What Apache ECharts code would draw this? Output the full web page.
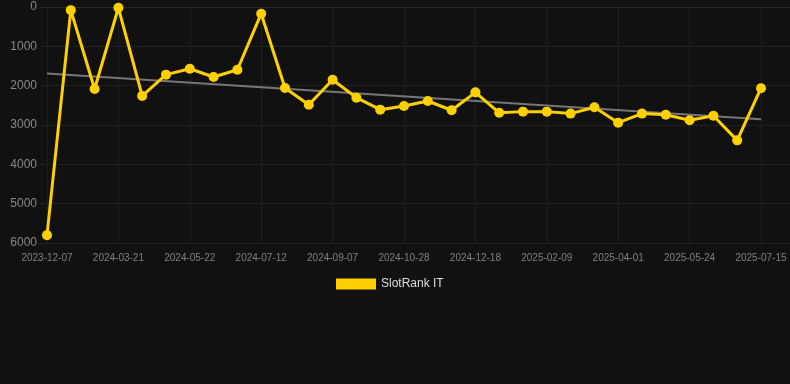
<!DOCTYPE html>
<html>
<head>
<meta charset="utf-8">
<script src="https://cdn.jsdelivr.net/npm/echarts@6/dist/echarts.min.js"></script>
<style>
html,body{margin:0;padding:0;background:#111111;}
#c{width:790px;height:384px;}
</style>
</head>
<body>
<div id="c"></div>
<script>
const dates = [
  '2023-12-07','2024-01-10','2024-02-18','2024-03-21','2024-04-12','2024-05-01',
  '2024-05-22','2024-06-08','2024-06-25','2024-07-12','2024-07-31','2024-08-19',
  '2024-09-07','2024-09-24','2024-10-11','2024-10-28','2024-11-14','2024-12-01',
  '2024-12-18','2025-01-05','2025-01-23','2025-02-09','2025-02-26','2025-03-15',
  '2025-04-01','2025-04-19','2025-05-06','2025-05-24','2025-06-10','2025-06-27',
  '2025-07-15'
];
const ranks = [
  5800, 80, 2085, 20, 2260, 1720,
  1570, 1780, 1595, 170, 2060, 2485,
  1850, 2305, 2610, 2515, 2390, 2625,
  2170, 2690, 2660, 2660, 2710, 2550,
  2940, 2710, 2740, 2880, 2765, 3390,
  2065
];
const trendEnds = [1690, 2856];
const labelIdx = [0, 3, 6, 9, 12, 15, 18, 21, 24, 27, 30];

const chart = echarts.init(document.getElementById('c'));
chart.setOption({
  backgroundColor: '#111111',
  animation: false,
  grid: { left: 40, right: 0, top: 7, bottom: 141 },
  legend: {
    data: ['SlotRank IT'],
    top: 273,
    left: 331,
    itemWidth: 40,
    itemHeight: 11,
    itemGap: 10,
    textStyle: { color: '#dddddd', fontSize: 12, fontFamily: 'Liberation Sans, Arial, sans-serif' },
    icon: 'rect'
  },
  xAxis: {
    type: 'value',
    min: -7 / 23.8,
    max: 30 + 29 / 23.8,
    axisLine: { show: true, lineStyle: { color: '#2a2a2a' } },
    axisTick: { show: false, customValues: labelIdx },
    axisLabel: {
      customValues: labelIdx,
      color: '#808080',
      fontSize: 10,
      margin: 10,
      fontFamily: 'Liberation Sans, Arial, sans-serif',
      formatter: v => dates[Math.round(v)] || ''
    },
    splitLine: { show: true, lineStyle: { color: '#1d1d1d', width: 1 } }
  },
  yAxis: {
    type: 'value',
    inverse: true,
    min: 0,
    max: 6000,
    interval: 1000,
    axisLine: { show: false },
    axisTick: { show: false },
    axisLabel: {
      color: '#888888',
      fontSize: 12,
      margin: 3,
      fontFamily: 'Liberation Sans, Arial, sans-serif',
      formatter: v => String(v)
    },
    splitLine: { show: true, lineStyle: { color: '#202020', width: 1 } }
  },
  series: [
    {
      name: 'Trend',
      type: 'line',
      data: [[0, trendEnds[0]], [dates.length - 1, trendEnds[1]]],
      showSymbol: false,
      silent: true,
      lineStyle: { color: '#777777', width: 2 },
      z: 1
    },
    {
      name: 'SlotRank IT',
      type: 'line',
      data: dates.map((d, i) => [i, ranks[i]]),
      symbol: 'circle',
      symbolSize: 10,
      itemStyle: { color: '#FFD000' },
      lineStyle: { color: '#FFD000', width: 3 },
      z: 2
    }
  ]
});
</script>
</body>
</html>
